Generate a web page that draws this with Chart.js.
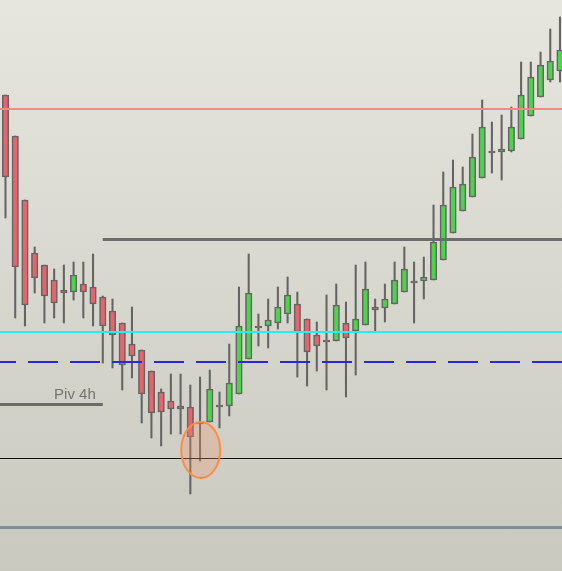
<!DOCTYPE html>
<html>
<head>
<meta charset="utf-8">
<script src="https://cdn.jsdelivr.net/npm/chart.js@4/dist/chart.umd.min.js"></script>
<style>
  html, body { margin: 0; padding: 0; }
  body { background: linear-gradient(to bottom, #e6e6de 0%, #c9c9c0 100%); width: 562px; height: 571px; overflow: hidden; }
  #wrap { width: 562px; height: 571px; position: relative; }
</style>
</head>
<body>
<div id="wrap"><canvas id="c"></canvas></div>
<script>
// candle data (price units), one entry per bar, left to right
const opens  = [505,464,400,347,335,320,310,308,316,313,303,289,277,256,250,229,208,199,194,193,
                178,178,195,194,206,241,274,274,277,286,296,281,265,260,259,277,269,275,293,292,
                296,308,319,319,320,340,367,389,403,422,449,448,449,461,484,503,520,529];
const highs  = [505,464,400,353,335,331,335,338,338,346,304,301,277,293,250,229,211,226,226,215,
                223,230,208,256,313,346,286,301,313,323,308,281,278,305,316,298,335,338,301,316,
                338,353,338,343,395,428,440,433,466,500,478,485,493,538,538,548,571,583];
const lows   = [382,282,274,307,277,282,277,300,282,274,237,232,210,222,177,162,154,166,166,106,
                139,178,172,184,206,241,254,252,271,277,223,214,229,210,259,203,225,275,268,278,
                296,308,277,301,320,340,367,389,403,422,427,420,448,461,484,503,518,518];
const closes = [423,333,295,322,304,297,307,325,308,296,274,265,235,244,206,187,188,191,191,163,
                176,211,193,217,274,307,272,280,293,305,268,248,254,258,295,262,281,311,290,301,
                320,331,317,323,358,395,413,416,443,473,447,451,473,505,523,535,539,550];

// horizontal levels
const levelSalmon = 491.5;
const levelGray   = 360.5;
const levelCyan   = 268;
const levelBlue   = 238;
const levelPiv    = 196;
const levelBlack  = 142;
const levelBottom = 73.5;
const pivLabel = 'Piv 4h';

// marked spot (bar index, price)
const markIndex = 20.07;
const markPrice = 150;

const idx = opens.map((_, i) => i);

const levelsPlugin = {
  id: 'levels',
  afterDatasetsDraw(chart){
    const {ctx, scales:{x, y}, chartArea:a} = chart;
    const hline = (v, color, w, x0, x1, dash) => {
      const py = Math.round(y.getPixelForValue(v)) + (w % 2 ? 0.5 : 0);
      ctx.save();
      ctx.strokeStyle = color; ctx.lineWidth = w;
      if(dash) { ctx.setLineDash(dash.pattern); ctx.lineDashOffset = dash.offset; }
      ctx.beginPath(); ctx.moveTo(x0, py); ctx.lineTo(x1, py); ctx.stroke();
      ctx.restore();
    };
    hline(levelSalmon, '#f08a84', 2, a.left, a.right);
    hline(levelGray, '#6c6c6c', 3, x.getPixelForValue(10), a.right);
    hline(levelCyan, '#22f0f4', 2, a.left, a.right);
    hline(levelBlue, '#2a2ad4', 2, a.left, a.right, {pattern:[30,12], offset:14});
    hline(levelPiv, '#6c6c6c', 3, a.left, x.getPixelForValue(10));
    hline(levelBlack, '#111111', 1, a.left, a.right);
    hline(levelBottom, '#7e8f98', 3, a.left, a.right);

    // label
    ctx.save();
    ctx.font = '15px "Liberation Sans", Arial, sans-serif';
    ctx.fillStyle = '#747474';
    ctx.textAlign = 'right';
    ctx.fillText(pivLabel, x.getPixelForValue(10) - 7, y.getPixelForValue(levelPiv) - 5);
    ctx.restore();

    // ellipse marker
    ctx.save();
    ctx.beginPath();
    ctx.ellipse(x.getPixelForValue(markIndex), y.getPixelForValue(markPrice), 19.5, 28, 0, 0, Math.PI*2);
    ctx.fillStyle = 'rgba(240,150,110,0.30)';
    ctx.fill();
    ctx.strokeStyle = '#ff8a45';
    ctx.lineWidth = 2;
    ctx.stroke();
    ctx.restore();
  }
};

new Chart(document.getElementById('c'), {
  type: 'bar',
  data: {
    datasets: [
      {
        label: 'wick',
        data: idx.map(i => ({x: i, y: [lows[i], highs[i]]})),
        backgroundColor: '#646464',
        barThickness: 1.4,
        grouped: false,
        order: 2
      },
      {
        label: 'body',
        data: idx.map(i => ({x: i, y: [opens[i], closes[i]]})),
        backgroundColor: idx.map(i => closes[i] >= opens[i] ? '#4cd44c' : '#e8646a'),
        borderColor: '#656565',
        borderWidth: 1.6,
        borderSkipped: false,
        barThickness: 6.5,
        grouped: false,
        order: 1
      }
    ]
  },
  options: {
    responsive: true,
    maintainAspectRatio: false,
    animation: false,
    layout: { padding: 0 },
    plugins: { legend: { display: false }, tooltip: { enabled: false } },
    scales: {
      x: { type: 'linear', min: -0.565, max: 57.206, offset: false, display: false },
      y: { min: 29, max: 600, display: false }
    }
  },
  plugins: [levelsPlugin]
});
</script>
</body>
</html>
